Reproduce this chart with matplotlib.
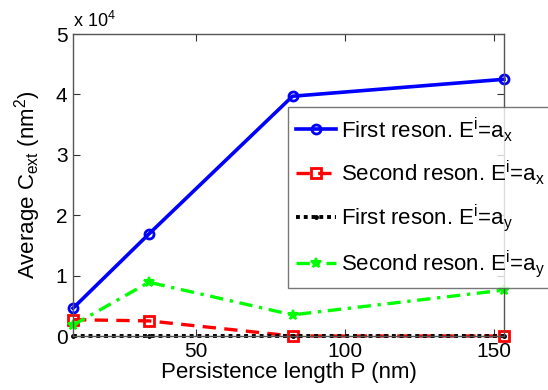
import matplotlib
matplotlib.use('Agg')
import matplotlib.pyplot as plt

plt.rcParams['font.family'] = ['Liberation Sans', 'DejaVu Sans']
plt.rcParams['mathtext.default'] = 'regular'

# data
persistence = [8.7, 34.2, 82.4, 153.4]
first_ax = [4600, 16900, 39700, 42500]
second_ax = [2700, 2500, 0, 0]
first_ay = [0, 0, 0, 0]
second_ay = [1800, 8900, 3500, 7600]

yticks = [0, 10000, 20000, 30000, 40000, 50000]
ytick_labels = ['0', '1', '2', '3', '4', '5']
xticks = [50, 100, 150]

fig = plt.figure(figsize=(5.48, 3.9), dpi=100)
ax = fig.add_axes([73 / 548, 1 - 336 / 390, (504 - 73) / 548, (336 - 34) / 390])

ax.plot(persistence, first_ax, color='#0000ff', lw=2.6, marker='o', ms=6.5,
        mfc='none', mew=2, label='First reson. E$^{i}$=a$_x$', clip_on=False)
ax.plot(persistence, second_ax, color='#ff0000', lw=2.4, ls=(0, (4, 2.5)), marker='s',
        ms=7.5, mfc='none', mew=2, label='Second reson. E$^{i}$=a$_x$', clip_on=False)
ax.plot(persistence, first_ay, color='black', lw=2.8, ls=(0, (1, 1)), marker='.',
        ms=5, label='First reson. E$^{i}$=a$_y$', clip_on=False)
ax.plot(persistence, second_ay, color='#00ff00', lw=2.4, ls=(0, (4, 2, 1, 2)), marker='*',
        ms=7, mew=1.5, label='Second reson. E$^{i}$=a$_y$', clip_on=False)

ax.set_xlim(persistence[0], persistence[-1])
ax.set_ylim(0, 50000)
ax.set_xticks(xticks)
ax.set_yticks(yticks)
ax.set_yticklabels(ytick_labels)
ax.tick_params(direction='in', length=5, width=0.8, labelsize=15, top=True, right=True,
               colors='#333333', labelcolor='black', pad=4)
for s in ax.spines.values():
    s.set_color('#555555')
    s.set_linewidth(1.0)

ax.set_xlabel('Persistence length P (nm)', fontsize=16, labelpad=1)
ax.set_ylabel('Average C$_{ext}$ (nm$^2$)', fontsize=16, labelpad=9)
ax.text(0.0, 1.01, 'x 10$^4$', transform=ax.transAxes, fontsize=13, ha='left', va='bottom')

leg = fig.legend(loc='upper left', bbox_to_anchor=(288 / 548, 1 - 107 / 390), fontsize=16,
                 frameon=True, fancybox=False, edgecolor='#555555', handlelength=1.8,
                 handletextpad=0.25, labelspacing=0.68, borderpad=0.35, borderaxespad=0)
leg.get_frame().set_linewidth(1.0)

fig.savefig('out.png', dpi=100)
